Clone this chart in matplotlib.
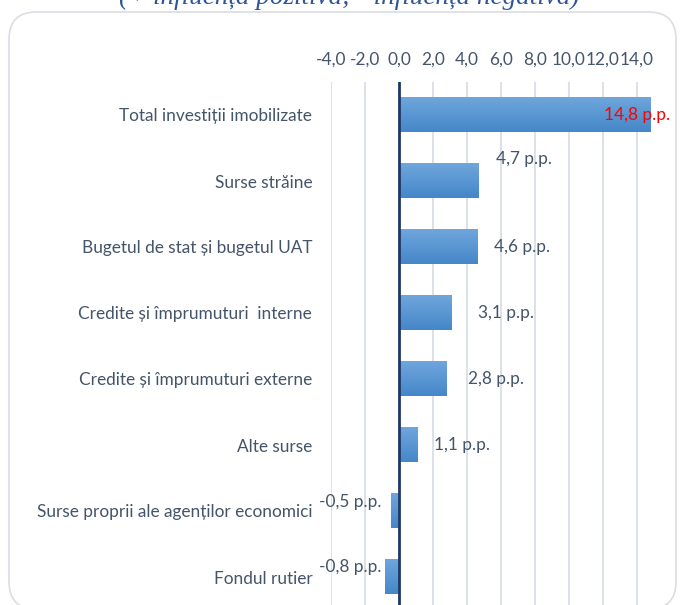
import numpy as np
import matplotlib.pyplot as plt
from matplotlib.patches import FancyBboxPatch
from matplotlib.colors import LinearSegmentedColormap

# Categories from top to bottom
categories = ['Total investiții imobilizate', 'Surse străine', 'Bugetul de stat și bugetul UAT',
              'Credite și împrumuturi  interne', 'Credite și împrumuturi externe', 'Alte surse',
              'Surse proprii ale agenților economici', 'Fondul rutier']
values = [14.8, 4.7, 4.6, 3.1, 2.8, 1.1, -0.5, -0.8]
value_labels = ['14,8 p.p.', '4,7 p.p.', '4,6 p.p.', '3,1 p.p.', '2,8 p.p.', '1,1 p.p.', '-0,5 p.p.', '-0,8 p.p.']
ticks = [-4, -2, 0, 2, 4, 6, 8, 10, 12, 14]
tick_labels = ['-4,0', '-2,0', '0,0', '2,0', '4,0', '6,0', '8,0', '10,0', '12,0', '14,0']

txt_col = '#44546A'
fnt = 'Lato'
fs = 12.4

fig = plt.figure(figsize=(6.81, 6.05), dpi=100)
# rounded frame of the chart area (bottom edge just below the image)
frame = FancyBboxPatch((9/681, -4/605), 667/681, (609 - 12)/605, boxstyle='round,pad=0,rounding_size=0.04',
                       transform=fig.transFigure, fc='white', ec='#D9DEE5', lw=1.2,
                       mutation_aspect=681/605, zorder=-10)
fig.patches.append(frame)

fig.text(349/681, 1 - 4/605, '(+ influența pozitivă; - influența negativă)', ha='center', va='baseline',
         fontsize=19.5, style='italic', family='Liberation Serif', color='#2F5597')

ax = fig.add_axes([331/681, 1 - 610/605, 323/681, 528/605])
ax.set_zorder(2)
y = np.arange(len(categories))

# gradient bars
cmap = LinearSegmentedColormap.from_list('b', ['#6FA6DC', '#4587C9'])
grad = np.linspace(0, 1, 50).reshape(-1, 1)
for i, v in enumerate(values):
    x0, x1 = min(0, v), max(0, v)
    ax.imshow(grad, extent=(x0, x1, i + 0.26, i - 0.26), cmap=cmap, aspect='auto', zorder=2)
ax.set_xlim(-4, 15)
ax.set_ylim(len(categories) - 0.5, -0.5)

for t in ticks:
    ax.axvline(t, color='#D9DEE5', lw=1.3, zorder=1)
ax.axvline(0, color='#1F3864', lw=2, zorder=3)

# data labels: (dx, dy) offsets in pixels from bar end
offsets = [(-47, 0), (17, 22), (17, 0), (26, 0), (21, 0), (16, 0), (-9, 9), (-4, 10)]
for i, (v, lab) in enumerate(zip(values, value_labels)):
    dx, dy = offsets[i]
    ax.annotate(lab, (v, i), xytext=(dx, dy), textcoords='offset pixels',
                ha='right' if v < 0 else 'left', va='center',
                color='red' if i == 0 else txt_col, fontsize=fs, family=fnt, zorder=4)

ax.set_yticks(y)
ax.set_yticklabels(categories, fontsize=fs, family=fnt, color=txt_col)
ax.xaxis.tick_top()
ax.set_xticks(ticks)
ax.set_xticklabels(tick_labels, fontsize=fs, family=fnt, color=txt_col)
ax.tick_params(length=0)
ax.tick_params(axis='y', pad=13.5)
ax.tick_params(axis='x', pad=10)
for s in ax.spines.values():
    s.set_visible(False)
ax.patch.set_alpha(0)

fig.savefig('out.png', dpi=100)
